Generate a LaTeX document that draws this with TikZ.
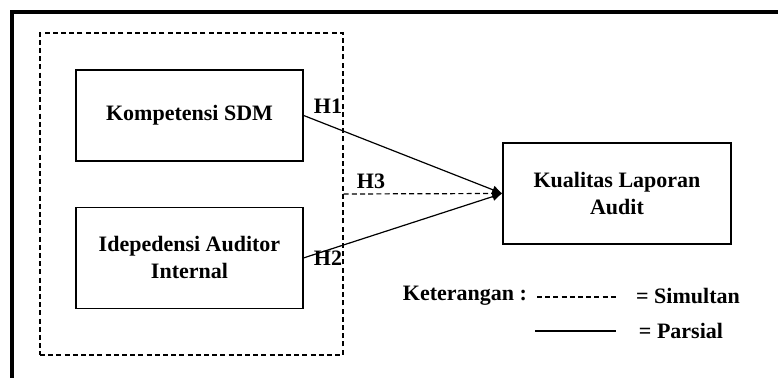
\documentclass[tikz,border=0pt]{standalone}
\usepackage{fontspec}
\setmainfont{Liberation Serif}
\usepackage{tikz}
\usetikzlibrary{shapes,arrows,arrows.meta,positioning}
\tikzstyle{block} = [rectangle, draw, line width=0.7pt, align=center,
minimum width=113.5pt, minimum height=45.5pt, inner sep=0pt]
\tikzstyle{group} = [rectangle, draw, dash pattern=on 2.5pt off 1.6pt, line width=0.6pt,
minimum width=151.5pt, minimum height=161pt, inner sep=0pt]
\tikzstyle{line} = [draw, line width=0.6pt, -{Latex[length=5pt,width=4.5pt]}]
\tikzstyle{simul} = [draw, line width=0.6pt, dash pattern=on 2.5pt off 1.6pt]
\tikzstyle{hlabel} = [inner sep=0pt]

\begin{document}
\begin{tikzpicture}[x=0.5pt, y=-0.5pt, font=\fontsize{11}{13.5}\selectfont\bfseries]
\useasboundingbox (0,0) rectangle (778,378);

% Frame
\draw [line width=1.6pt] (12,378) -- (12,12) -- (778,12);

% Place nodes
\node [group] (grp) at (191.5,194) {};
\node [block] (kom) at (189.5,115.5) {Kompetensi SDM};
\node [block, below=22.5pt of kom, minimum height=50.5pt] (ide) {Idepedensi Auditor\\Internal};
\node [block, minimum width=114pt, minimum height=50.5pt] (kla) at (617,193.5) {Kualitas Laporan\\Audit};
\node [hlabel] (h1) at (328,106) {H1};
\node [hlabel] (h2) at (328,258) {H2};
\node [hlabel] (h3) at (371,181) {H3};

% Draw edges
\path [line] (kom.east) -- (kla.west);
\path [line] (ide.east) -- (kla.west);
\path [line, dash pattern=on 2.5pt off 1.6pt] (grp.east) -- (kla.west);

% Legend
\node [hlabel] (ket) at (465,296) {Keterangan :};
\coordinate (ds) at (537,297);
\coordinate (de) at (618,297);
\coordinate (ls) at (535,331);
\coordinate (le) at (616,331);
\path [simul] (ds) -- (de);
\draw [line width=0.6pt] (ls) -- (le);
\node [hlabel] (sim) at (688,296) {= Simultan};
\node [hlabel] (par) at (681,331) {= Parsial};
\end{tikzpicture}
\end{document}
